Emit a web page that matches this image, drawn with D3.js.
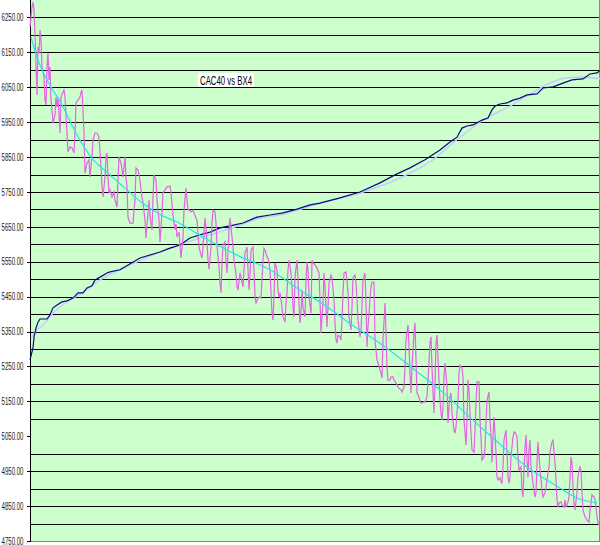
<!DOCTYPE html>
<html><head><meta charset="utf-8">
<script src="https://cdn.jsdelivr.net/npm/d3@7"></script>
<style>html,body{margin:0;padding:0;background:#fff;}svg{display:block;}</style>
</head><body>
<svg id="chart" width="600" height="545"></svg>
<script>
// ---- data ----
const title = "CAC40 vs BX4";
const yTickValues = [4750,4850,4950,5050,5150,5250,5350,5450,5550,5650,5750,5850,5950,6050,6150,6250];
const gridValues = [4800,4850,4900,4950,5000,5100,5150,5200,5250,5300,5350,5400,5450,5500,5550,5600,5650,5700,5750,5800,5850,5900,5950,6000,6050,6100,6150,6200,6250];

// CAC40 (magenta) : day index and value
const cacDays = [
  0,2,3,4,5,7,8,9,10,11, 12,14,15,16,17,18,19,20,21,22,
  23,25,26,27,28,30,31,33,34,35, 37,38,40,42,44,45,46,48,50,51,
  52,54,55,57,59,60,62,63,65,67, 69,71,72,73,75,76,77,78,79,80,
  82,84,85,87,88,89,91,93,95,96, 97,98,100,103,105,106,108,110,111,113,
  115,116,118,119,120,122,123,124,126,127, 129,130,132,133,135,137,140,141,143,145,
  146,147,149,151,153,154,156,157,158,160, 161,163,164,166,167,168,169,171,172,173,
  175,176,177,178,179,181,182,183,185,186, 187,189,190,191,192,193,195,196,197,198,
  199,200,201,203,204,205,206,207,208,210, 211,213,214,215,217,218,219,220,221,223,
  224,225,226,228,229,231,232,233,234,235, 237,238,240,241,242,243,244,245,247,248,
  249,250,252,253,255,256,257,258,259,261, 262,263,264,265,267,268,269,270,271,272,
  273,275,276,277,278,279,281,282,283,285, 287,289,290,291,293,294,295,296,297,298,
  299,301,302,304,305,306,307,308,310,311, 312,313,314,316,317,318,319,321,322,323,
  325,326,327,328,330,331,332,333,335,336, 337,338,340,341,342,344,345,347,348,349,
  351,352,353,355,356,357,358,360,361,363, 364,366,368,369,371,372,374,375,376,378,
  379,380,381,382,384,385,386,387,389,390, 392,393,395,397,398,400,401,402,403,404,
  405,406,407,408,409,410,411,412,413,414, 415,417,418,419,420,421,422,424,425,426,
  428,429,430,432,433,434,436,437,438,439, 440,441,442,444,445,446,447,449,450,451,
  452,454,455,456,457,459,460,461,462,463, 464,465,466,467,468,470,471,472,473,474,
  476,477,478,479,480,481,483,484,485,487, 488,489,491,492,493,494,495,496,497,498,
  499,500,501,503,504,505,506,507,508,509, 511,512,513,515,516,517,519,520,522,523,
  525,526,527,528,529,531,532,534,535,536, 538,539,540,541,542,543,544,545,547,548,
  549,550,551,552,553,555,556,557,559,560, 561,562,564,565,566,567,568,569];
const cacValues = [
  6223,6280,6294,6271,6205,6028,6165,6148,6214,6185, 6108,6079,6013,5999,6108,6148,6071,6108,6013,5985,
  5948,5971,6022,5993,6022,5919,6022,6036,6042,6022, 5919,5865,5879,5876,5862,5919,6005,6013,6022,6036,
  6042,5919,5804,5833,5842,5793,5850,5899,5919,5919, 5907,5822,5764,5736,5793,5850,5862,5793,5747,5756,
  5736,5750,5727,5707,5784,5850,5833,5793,5850,5793, 5764,5678,5661,5661,5727,5819,5813,5784,5756,5718,
  5670,5618,5690,5727,5678,5641,5736,5799,5784,5727, 5670,5607,5690,5747,5756,5764,5767,5750,5684,5641,
  5658,5621,5635,5561,5621,5698,5761,5727,5698,5698, 5693,5698,5690,5675,5670,5632,5592,5569,5561,5592,
  5675,5650,5604,5555,5529,5592,5661,5698,5693,5661, 5598,5535,5489,5461,5547,5598,5607,5555,5518,5575,
  5641,5675,5650,5592,5555,5535,5518,5478,5469,5518, 5506,5478,5527,5575,5592,5527,5469,5512,5584,5592,
  5527,5449,5432,5446,5449,5446,5498,5555,5589,5584, 5564,5561,5527,5461,5403,5383,5449,5547,5527,5469,
  5449,5461,5420,5392,5377,5432,5461,5527,5555,5518, 5478,5420,5392,5506,5555,5498,5432,5375,5403,5469,
  5420,5392,5498,5549,5527,5449,5403,5555,5547,5541, 5532,5518,5441,5346,5432,5518,5478,5420,5363,5420,
  5489,5512,5504,5441,5375,5326,5317,5340,5335,5326, 5383,5461,5518,5521,5498,5461,5392,5355,5420,5506,
  5512,5489,5441,5383,5335,5355,5420,5498,5518,5432, 5306,5363,5441,5478,5492,5492,5326,5269,5260,5249,
  5231,5217,5326,5432,5346,5249,5211,5211,5220,5220, 5211,5203,5191,5188,5183,5177,5191,5249,5326,5369,
  5306,5231,5174,5249,5346,5375,5269,5174,5163,5148, 5145,5148,5148,5163,5211,5317,5335,5249,5174,5117,
  5203,5317,5340,5277,5211,5154,5117,5097,5134,5220, 5260,5191,5088,5134,5163,5174,5117,5068,5059,5077,
  5154,5231,5254,5246,5220,5097,5025,5097,5211,5183, 5117,5059,5011,5005,5068,5145,5206,5206,5097,5048,
  4982,4991,5019,5088,5154,5177,5097,5048,4976,5048, 5105,5059,5002,4933,4925,4931,4919,4916,4962,5039,
  5068,5002,4933,4916,4933,4991,5048,5062,5062,5048, 4991,4953,4962,4896,4876,4953,5019,5054,4982,4933,
  5011,5039,4962,4916,4896,4876,4888,4973,5034,4991, 4925,4896,4876,4888,4902,4925,4962,5005,5034,5039,
  4973,4925,4868,4847,4859,4862,4853,4847,4868,4847, 4862,4876,4933,4991,4973,4905,4859,4839,4888,4933,
  4953,4962,4953,4888,4839,4819,4816,4810,4804,4839, 4859,4882,4876,4868,4847,4819,4802,4796];

// CAC40 trend (cyan)
const trendDays = [1,8,13,21,31,38,48,61,78,95,111,131,147,173,207,240,273,290,318,352,385,418,434,463,497,530,547,567];
const trendValues = [6194,6128,6094,6051,6005,5965,5908,5850,5804,5761,5721,5684,5664,5621,5569,5527,5463,5435,5377,5312,5240,5163,5120,5045,4962,4902,4873,4859];

// BX4 (navy)
const bxDays = [0,3,4,6,8,10,17,20,23,27,32,37,43,48,53,57,62,65,70,77,80,
  90,110,130,140,150,160,170,180,190,200,213,227,240,253,267,280,
  290,310,330,350,365,380,395,410,420,427,432,437,443,452,458,462,465,470,477,483,490,497,507,513,523,533,542,553,560,567,570];
const bxValues = [5269,5303,5334,5360,5377,5386,5386,5398,5418,5426,5435,5438,5446,5461,5461,5475,5481,5498,5506,5518,5521,
  5527,5561,5578,5589,5598,5618,5627,5635,5647,5653,5661,5678,5684,5690,5701,5713,
  5718,5733,5750,5776,5799,5819,5842,5870,5893,5907,5933,5939,5942,5956,5962,5985,5996,6002,6005,6013,6019,6028,6031,6048,6051,6062,6071,6074,6088,6091,6097];

// BX4 trend (pale blue)
const bxTrendDays = [1,7,13,23,37,53,70,90,130,170,210,230,250,290,330,370,400,430,453,480,507,520,537,553,570];
const bxTrendValues = [5332,5355,5369,5403,5435,5463,5498,5527,5578,5618,5655,5675,5684,5718,5747,5790,5836,5907,5956,5996,6042,6062,6077,6079,6074];

// ---- drawing ----
const svg = d3.select("#chart");
const plotL = 30, plotR = 600, plotT = 0, plotB = 541;

const x = d3.scaleLinear().domain([0, 570]).range([plotL, plotR]);
const y = d3.scaleLinear().domain([4750, 6300]).range([plotB, plotT]);

svg.append("rect").attr("x", plotL).attr("y", plotT).attr("width", plotR - plotL).attr("height", plotB - plotT)
  .attr("fill", "#ccffcc");

// gridlines
svg.append("g").selectAll("line").data(gridValues).join("line")
  .attr("x1", plotL).attr("x2", plotR)
  .attr("y1", d => Math.round(y(d)) + 0.5).attr("y2", d => Math.round(y(d)) + 0.5)
  .attr("stroke", "#000").attr("stroke-width", 1).attr("shape-rendering", "crispEdges");

// borders
svg.append("line").attr("x1", plotL).attr("x2", plotR).attr("y1", plotB + 0.5).attr("y2", plotB + 0.5)
  .attr("stroke", "#888").attr("shape-rendering", "crispEdges");
svg.append("line").attr("x1", plotR - 0.5).attr("x2", plotR - 0.5).attr("y1", plotT).attr("y2", plotB)
  .attr("stroke", "#888").attr("shape-rendering", "crispEdges");

// y axis
const yAxis = d3.axisLeft(y).tickValues(yTickValues).tickFormat(d => d.toFixed(2)).tickSize(4).tickPadding(3);
const ga = svg.append("g").attr("transform", `translate(${plotL + 0.5},0)`).call(yAxis);
ga.select(".domain").attr("stroke", "#000").attr("d", `M0,${plotT}V${plotB}`);
ga.selectAll(".tick line").attr("stroke", "#000").attr("shape-rendering", "crispEdges");
ga.selectAll(".tick text")
  .attr("font-family", "'Liberation Sans Narrow','Arial Narrow','Liberation Sans',sans-serif")
  .attr("font-size", 10).attr("fill", "#222")
  .attr("textLength", 22).attr("lengthAdjust", "spacingAndGlyphs");

const line = d3.line().x(d => x(d[0])).y(d => y(d[1]));

// BX4 trend
svg.append("path").datum(d3.zip(bxTrendDays, bxTrendValues))
  .attr("d", d3.line().x(d => x(d[0])).y(d => y(d[1])).curve(d3.curveMonotoneX))
  .attr("fill", "none").attr("stroke", "#c8ccf8").attr("stroke-width", 1.6);
// BX4
svg.append("path").datum(d3.zip(bxDays, bxValues)).attr("d", line)
  .attr("fill", "none").attr("stroke", "#0a0a80").attr("stroke-width", 1.2);
// CAC40
svg.append("path").datum(d3.zip(cacDays, cacValues)).attr("d", line)
  .attr("fill", "none").attr("stroke", "#e464e4").attr("stroke-width", 1.2);
// CAC40 trend
svg.append("path").datum(d3.zip(trendDays, trendValues))
  .attr("d", d3.line().x(d => x(d[0])).y(d => y(d[1])).curve(d3.curveMonotoneX))
  .attr("fill", "none").attr("stroke", "#22e4f0").attr("stroke-width", 1.2);

// title
const tg = svg.append("g");
tg.append("rect").attr("x", 198).attr("y", 73).attr("width", 56).attr("height", 14).attr("fill", "#fff");
tg.append("text").attr("x", 200).attr("y", 85).text(title)
  .attr("font-family", "'Liberation Sans Narrow','Arial Narrow','Liberation Sans',sans-serif")
  .attr("font-size", 13).attr("fill", "#000")
  .attr("textLength", 52).attr("lengthAdjust", "spacingAndGlyphs");
</script>
</body></html>
